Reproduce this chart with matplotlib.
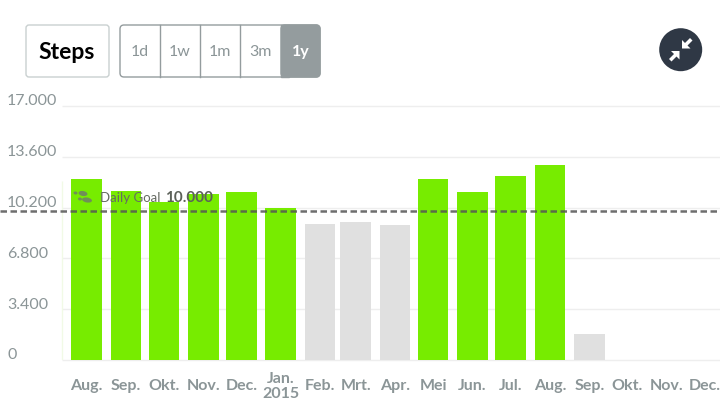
import numpy as np
import pandas as pd
import matplotlib
matplotlib.use('Agg')
import matplotlib.pyplot as plt
from matplotlib.patches import FancyBboxPatch, Rectangle, Circle, Ellipse, Polygon

plt.rcParams['font.family'] = ['Lato', 'DejaVu Sans']

# months start Aug 2014, one bar per month
months = pd.date_range('2014-08-01', periods=17, freq='MS')
month_labels = ['Aug.', 'Sep.', 'Okt.', 'Nov.', 'Dec.', 'Jan.\n2015', 'Feb.', 'Mrt.', 'Apr.',
                'Mei', 'Jun.', 'Jul.', 'Aug.', 'Sep.', 'Okt.', 'Nov.', 'Dec.']
steps = [12090, 11310, 10570, 11140, 11270, 10150, 9100, 9210, 9010,
         12090, 11240, 12310, 13030, 1740, 0, 0, 0]
goal = 10000
y_ticks = [0, 3400, 6800, 10200, 13600, 17000]
y_tick_labels = ['0', '3.400', '6.800', '10.200', '13.600', '17.000']
buttons = ['1d', '1w', '1m', '3m', '1y']

W, H = 720, 406
GREEN = '#77ec00'
GREY = '#e0e0e0'
TXT = '#8b9597'

days = np.array((months - months[0]).days)
px_per_day = (705 - 86.7) / days[-1]

fig = plt.figure(figsize=(W / 100, H / 100), dpi=100)
fig.patch.set_facecolor('white')

# plot area takes the whole width so the goal line can run edge to edge
ax = fig.add_axes([0, (H - 361) / H, 1, 254 / H])
ax.set_xlim(-86.5 / px_per_day, (W - 86.5) / px_per_day)
ax.set_ylim(0, 17000)
ax.axis('off')

grid_start = (62 - 86.5) / px_per_day
ax.hlines(y_ticks, grid_start, ax.get_xlim()[1], color='#eeeeee', lw=1, zorder=1, clip_on=False)
ax.vlines(grid_start, 0, 12000, color='#f1fae6', lw=1, zorder=1)

colors = [GREEN if s >= goal else GREY for s in steps]
ax.bar(days, steps, width=30.7 / px_per_day, color=colors, zorder=2)
ax.axhline(goal, color='#555555', lw=1.8, alpha=0.85, dashes=(2.6, 1.4), zorder=3)

for v, lab in zip(y_ticks, y_tick_labels):
    ax.annotate(lab, (7, v), xycoords=('figure pixels', 'data'), xytext=(0, 1.5), textcoords='offset pixels',
                ha='left', va='baseline', fontsize=11.5, color=TXT, annotation_clip=False)

for d, lab in zip(days, month_labels):
    two = '\n' in lab
    ax.annotate(lab, (d, 0), xytext=(0, -29.5 if not two else -37), textcoords='offset pixels',
                ha='center', va='baseline', fontsize=11.5, fontweight='bold', color=TXT,
                linespacing=1.05, annotation_clip=False)

# overlay in pixel coordinates for the buttons and icons
ui = fig.add_axes([0, 0, 1, 1], facecolor='none')
ui.set_xlim(0, W)
ui.set_ylim(H, 0)
ui.axis('off')

ui.add_patch(FancyBboxPatch((26, 26), 83, 52, boxstyle='round,pad=0,rounding_size=3',
                            fc='white', ec='#c9d0d0', lw=1))
ui.text(67, 52.5, 'Steps', ha='center', va='center', fontsize=16.5, fontweight='bold', color='black')

edges = [120, 159.5, 199.5, 240, 281, 320]
ui.add_patch(FancyBboxPatch((120, 26), 200, 52, boxstyle='round,pad=0,rounding_size=4',
                            fc='white', ec='#949c9e', lw=1))
ui.add_patch(FancyBboxPatch((281, 26), 39, 52, boxstyle='round,pad=0,rounding_size=4',
                            fc='#949c9e', ec='#949c9e', lw=1))
ui.add_patch(Rectangle((281, 26), 8, 52, fc='#949c9e', ec='#949c9e', lw=1))
for e in edges[1:-2]:
    ui.plot([e, e], [26, 78], color='#949c9e', lw=1)
for i, lab in enumerate(buttons):
    ui.text((edges[i] + edges[i + 1]) / 2, 52, lab, ha='center', va='center', fontsize=11.5,
            color='white' if lab == '1y' else TXT, fontweight='bold' if lab == '1y' else 'normal')

# collapse icon
ui.add_patch(Circle((680.7, 50.7), 21.5, fc='#2f3845', ec='none'))
arrow = np.array([(0, 0), (0, -8.5), (3, -5.5), (8, -10.5), (10.5, -8), (5.5, -3), (8.5, 0)])
ui.add_patch(Polygon(arrow + (682, 49.5), fc='white', ec='none'))
ui.add_patch(Polygon(-arrow + (679.5, 52), fc='white', ec='none'))

# footprints
for cx, cy, w, h in [(75.5, 194, 4, 3), (83, 194.5, 9, 5), (80, 200, 4, 3), (87, 201, 10, 5)]:
    ui.add_patch(Ellipse((cx, cy), w, h, angle=10, fc='#6f7f68', ec='none', alpha=0.85))

ui.text(100, 202, 'Daily Goal', ha='left', va='baseline', fontsize=9.5, color='#666b63')
ui.text(165, 202, '10.000', ha='left', va='baseline', fontsize=11, fontweight='bold', color='#5c6159')

fig.savefig('out.png', dpi=100)
